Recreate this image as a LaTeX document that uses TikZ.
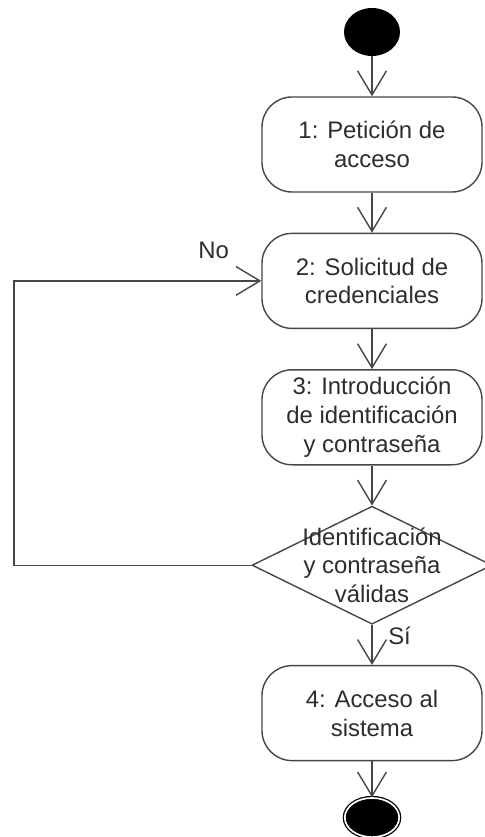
\documentclass[tikz,border=0pt]{standalone}
\usepackage{fontspec}
\setmainfont{Liberation Sans}
\usetikzlibrary{positioning, shapes.geometric, arrows.meta}
\definecolor{linecol}{RGB}{70, 70, 70}
\definecolor{txtcol}{RGB}{45, 45, 45}
\tikzset{
  activity/.style={draw=linecol, line width=1pt, rounded corners=0.75cm,
                   minimum width=5.5cm, minimum height=2.375cm, align=center,
                   text=txtcol, font=\fontsize{17}{20.5}\selectfont},
  decision/.style={draw=linecol, line width=1pt, diamond, inner sep=0pt,
                   minimum width=6cm, minimum height=2.95cm},
  initial/.style={ellipse, fill=black, minimum width=1.4cm, minimum height=1.2cm},
  final/.style={ellipse, draw=black, fill=black, double=white, double distance=1.2pt,
                line width=0.9pt, minimum width=1.36cm, minimum height=0.98cm},
  guard/.style={inner sep=0pt, text=txtcol, font=\fontsize{17}{20.5}\selectfont},
  flow/.style={-{Straight Barb[length=0.6cm, width=0.72cm]}, draw=linecol, line width=1pt},
}

\begin{document}
\begin{tikzpicture}[node distance=1cm]
  \useasboundingbox (0,0) rectangle (12.125,-20.925);

  \node[initial] (ini) at (9.3,-0.8) {};
  \node[activity, below=of ini] (pet) {1: Petición de\\acceso};
  \node[activity, below=of pet] (sol) {2: Solicitud de\\credenciales};
  \node[activity, below=of sol] (intro) {3: Introducción\\de identificación\\y contraseña};
  \node[decision, below=of intro,
        label={[guard, align=center]center:Identificación\\y contraseña\\válidas}] (valid) {};
  \node[activity, below=of valid] (acc) {4: Acceso al\\sistema};
  \node[final, below=0.9cm of acc] (fin) {};

  \coordinate (loop) at (0.35,0);

  \draw[flow] (ini) -- (pet);
  \draw[flow] (pet) -- (sol);
  \draw[flow] (sol) -- (intro);
  \draw[flow] (intro) -- (valid);
  \draw[flow] (valid) -- (acc);
  \draw[flow] (acc) -- (fin);
  \draw[flow] (valid.west) -- (valid.west -| loop) |- (sol.west);

  \node[guard, above left=0.55cm and 0.8cm of sol.west] (no) {No};
  \node[guard, below right=0.05cm and 0.4cm of valid.south] (si) {Sí};
\end{tikzpicture}
\end{document}
